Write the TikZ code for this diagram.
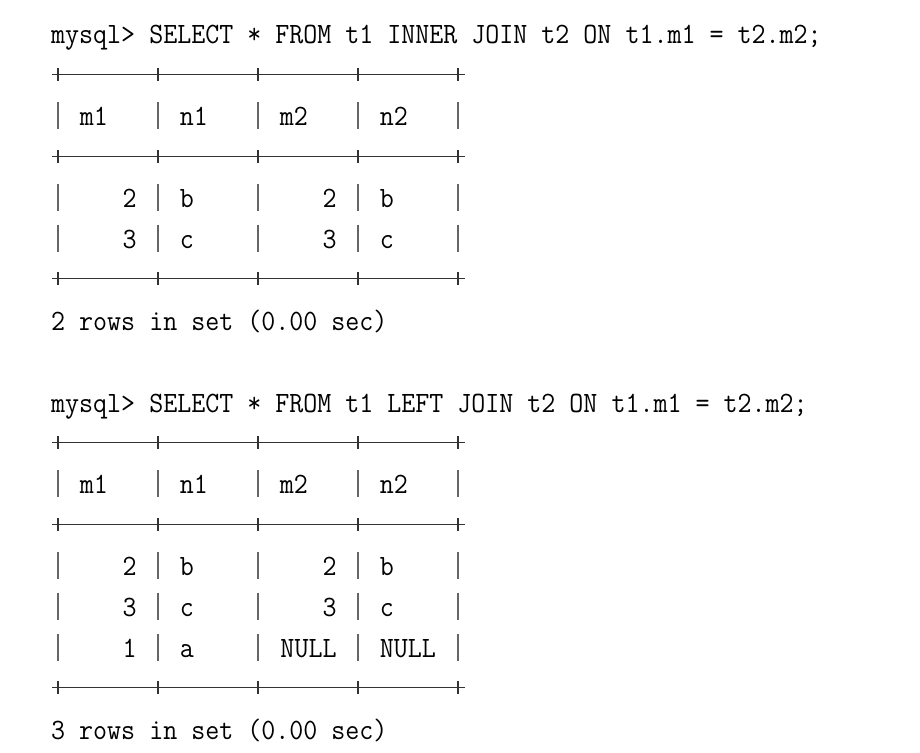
\documentclass[tikz,border=0pt]{standalone}
\usepackage{fontspec}
\usepackage{graphicx}
\usetikzlibrary{positioning}

\tikzset{
  txt/.style={anchor=base west,inner sep=0pt,font=\fontsize{29.5}{32}\ttfamily},
  num/.style={txt,anchor=base east},
  rule/.style={black!80,line width=1.1pt},
  bar/.style={black!60,line width=1.2pt},
}
% one character cell, and the baseline of text line #1
\newcommand\cw{14.286}
\newcommand\bl[1]{44+40.9*(#1)}
% narrow the mono glyphs to the console's cell width
\newcommand\mono[1]{\scalebox{0.922}[1]{#1}}
% a +------+ line of the table
\newcommand\hborder[1]{%
  \draw[rule] (52,{\bl{#1}-10.5}) -- (465,{\bl{#1}-10.5});
  \foreach \k in {0,...,4}
    \draw[rule] (58+100*\k,{\bl{#1}-17}) -- (58+100*\k,{\bl{#1}-4});}
% the | bars of one table row
\newcommand\vbars[1]{%
  \foreach \k in {0,...,4}
    \draw[bar] (58+100*\k,{\bl{#1}-24}) -- (58+100*\k,{\bl{#1}+3});}

\begin{document}
\begin{tikzpicture}[x={(1pt,0)},y={(0,-1pt)}]
  \useasboundingbox (0,0) rectangle (920,752);

  % first query: inner join
  \node[txt] (q1) at (51,{\bl{0}}) {\mono{mysql> SELECT * FROM t1 INNER JOIN t2 ON t1.m1 = t2.m2;}};
  \hborder{1}
  \foreach \h [count=\i from 0] in {m1,n1,m2,n2}
    \node[txt] (a-h\i) at ({51+\cw*(2+7*\i)},{\bl{2}}) {\mono{\h}};
  \vbars{2}
  \hborder{3}
  \foreach \va/\vb/\vc/\vd [count=\r from 0] in {2/b/2/b,3/c/3/c} {
    \node[num] (a-\r-m1) at ({51+\cw*6},{\bl{4+\r}}) {\mono{\va}};
    \node[txt] (a-\r-n1) at ({51+\cw*9},{\bl{4+\r}}) {\mono{\vb}};
    \node[num] (a-\r-m2) at ({51+\cw*20},{\bl{4+\r}}) {\mono{\vc}};
    \node[txt] (a-\r-n2) at ({51+\cw*23},{\bl{4+\r}}) {\mono{\vd}};
    \vbars{4+\r}
  }
  \hborder{6}
  \node[txt] (s1) at (51,{\bl{7}}) {\mono{2 rows in set (0.00 sec)}};

  % second query: left join
  \node[txt] (q2) at (51,{\bl{9}}) {\mono{mysql> SELECT * FROM t1 LEFT JOIN t2 ON t1.m1 = t2.m2;}};
  \hborder{10}
  \foreach \h [count=\i from 0] in {m1,n1,m2,n2}
    \node[txt] (b-h\i) at ({51+\cw*(2+7*\i)},{\bl{11}}) {\mono{\h}};
  \vbars{11}
  \hborder{12}
  \foreach \va/\vb/\vc/\vd [count=\r from 0] in {2/b/2/b,3/c/3/c,1/a/NULL/NULL} {
    \node[num] (b-\r-m1) at ({51+\cw*6},{\bl{13+\r}}) {\mono{\va}};
    \node[txt] (b-\r-n1) at ({51+\cw*9},{\bl{13+\r}}) {\mono{\vb}};
    \node[num] (b-\r-m2) at ({51+\cw*20},{\bl{13+\r}}) {\mono{\vc}};
    \node[txt] (b-\r-n2) at ({51+\cw*23},{\bl{13+\r}}) {\mono{\vd}};
    \vbars{13+\r}
  }
  \hborder{16}
  \node[txt] (s2) at (51,{\bl{17}}) {\mono{3 rows in set (0.00 sec)}};
\end{tikzpicture}
\end{document}
